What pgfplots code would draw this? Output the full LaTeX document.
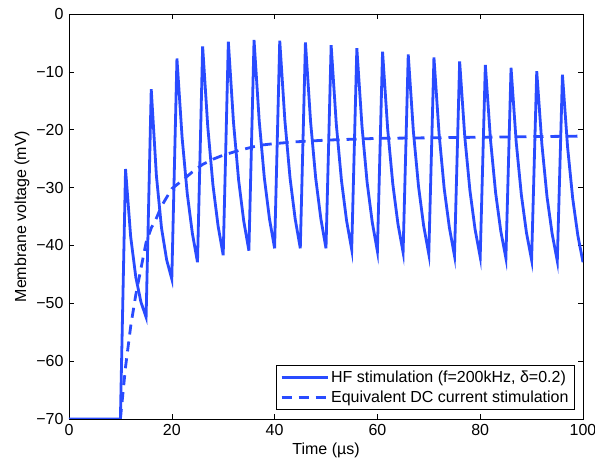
\documentclass[border=0pt]{standalone}
\usepackage{pgfplots}
\pgfplotsset{compat=1.18}
\usepackage{fontspec}
\setmainfont{Liberation Sans}
\definecolor{hfblue}{RGB}{41,75,255}

\begin{document}
\fontsize{16}{18}\selectfont
\begin{tikzpicture}
\useasboundingbox (0,0) rectangle (595pt,463pt);
\begin{axis}[
    at={(69pt,44pt)}, anchor=south west,
    scale only axis,
    width=514pt, height=405pt,
    xmin=0, xmax=100, ymin=-70, ymax=0,
    xtick={0,20,...,100},
    ytick={-70,-60,...,0},
    yticklabels={−70,−60,−50,−40,−30,−20,−10,0},
    /pgf/number format/assume math mode=true,
    tick label style={font=\fontsize{16}{18}\selectfont},
    label style={font=\fontsize{16}{18}\selectfont},
    xlabel={Time (µs)},
    ylabel={Membrane voltage (mV)},
    xlabel style={at={(axis description cs:0.5,0)}, anchor=center, yshift=-31pt},
    ylabel style={at={(axis description cs:0,0.5)}, anchor=center, yshift=47pt},
    tick align=inside,
    major tick length=5pt,
    axis line style={line width=0.8pt},
    every tick/.style={black, line width=0.6pt},
    legend style={at={(0.9844,0.0222)}, anchor=south east,
        font=\fontsize{16}{18}\selectfont, draw=black, line width=0.8pt,
        inner xsep=4pt, inner ysep=3pt, row sep=2pt, cells={anchor=west}},
    legend cell align=left,
    legend image code/.code={\draw[#1, line width=2.8pt] (0pt,0pt) -- (46pt,0pt);},
]
\addplot[hfblue, line width=2.8pt] coordinates {
    (0,-70) (10,-70)
    (11,-26.8) (12,-38.5) (13,-45.5) (14,-49.8) (15,-52.4)
    (16,-13.0) (17,-27.9) (18,-37.0) (19,-42.5) (20,-45.8)
    (21,-7.7) (22,-21.3) (23,-31.0) (24,-37.9) (25,-42.9)
    (26,-5.6) (27,-19.5) (28,-29.5) (29,-36.6) (30,-41.7)
    (31,-4.8) (32,-18.7) (33,-28.7) (34,-35.8) (35,-40.9)
    (36,-4.5) (37,-18.4) (38,-28.3) (39,-35.4) (40,-40.5)
    (41,-4.6) (42,-18.4) (43,-28.3) (44,-35.4) (45,-40.5)
    (46,-4.9) (47,-18.6) (48,-28.4) (49,-35.4) (50,-40.5)
    (51,-5.4) (52,-19.0) (53,-28.7) (54,-35.7) (55,-40.7)
    (56,-5.9) (57,-19.4) (58,-29.1) (59,-36.0) (60,-41.0)
    (61,-6.5) (62,-19.9) (63,-29.4) (64,-36.3) (65,-41.2)
    (66,-7.0) (67,-20.3) (68,-29.8) (69,-36.6) (70,-41.5)
    (71,-7.5) (72,-20.7) (73,-30.2) (74,-36.9) (75,-41.8)
    (76,-8.2) (77,-21.2) (78,-30.5) (79,-37.2) (80,-42.0)
    (81,-8.8) (82,-21.7) (83,-30.9) (84,-37.5) (85,-42.2)
    (86,-9.3) (87,-22.1) (88,-31.2) (89,-37.8) (90,-42.5)
    (91,-9.9) (92,-22.5) (93,-31.6) (94,-38.0) (95,-42.7)
    (96,-10.5) (97,-23.0) (98,-31.9) (99,-38.3) (100,-42.9)
};
\addlegendentry{HF stimulation (f=200kHz, δ=0.2)}
\addplot[hfblue, line width=2.8pt, dash pattern=on 10pt off 7pt] coordinates {
    (10,-70) (11,-61) (12,-54) (13,-48.5) (14,-44) (15,-39.5) (16,-37)
    (17,-35.3) (18,-33.2) (20,-30.2) (22,-28.8) (24,-27.3) (26,-26)
    (28,-25.1) (30,-24.4) (33,-23.6) (37,-22.7) (40,-22.4) (44,-22.1)
    (50,-21.8) (60,-21.5) (70,-21.4) (80,-21.3) (100,-21.1)
};
\addlegendentry{Equivalent DC current stimulation}
\end{axis}
\end{tikzpicture}
\end{document}
